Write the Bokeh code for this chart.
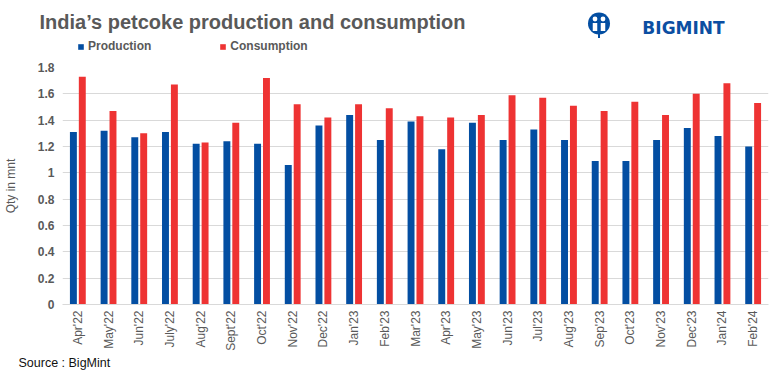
from math import pi
from bokeh.plotting import figure
from bokeh.layouts import column
from bokeh.models import (FactorRange, Range1d, FixedTicker, Label, Legend,
                          LegendItem, ColumnDataSource, Title)
from bokeh.transform import dodge
from bokeh.embed import file_html
from bokeh.resources import INLINE

months = ["Apr'22", "May'22", "Jun'22", "July'22", "Aug'22", "Sept'22", "Oct'22",
          "Nov'22", "Dec'22", "Jan'23", "Feb'23", "Mar'23", "Apr'23", "May'23",
          "Jun'23", "Jul'23", "Aug'23", "Sep'23", "Oct'23", "Nov'23", "Dec'23",
          "Jan'24", "Feb'24"]
production = [1.31, 1.32, 1.27, 1.31, 1.22, 1.24, 1.22, 1.06, 1.36, 1.44, 1.25,
              1.39, 1.18, 1.38, 1.25, 1.33, 1.25, 1.09, 1.09, 1.25, 1.34, 1.28, 1.20]
consumption = [1.73, 1.47, 1.30, 1.67, 1.23, 1.38, 1.72, 1.52, 1.42, 1.52, 1.49,
               1.43, 1.42, 1.44, 1.59, 1.57, 1.51, 1.47, 1.54, 1.44, 1.60, 1.68, 1.53]
y_ticks = [0, 0.2, 0.4, 0.6, 0.8, 1.0, 1.2, 1.4, 1.6, 1.8]
y_tick_labels = ["0", "0.2", "0.4", "0.6", "0.8", "1", "1.2", "1.4", "1.6", "1.8"]
series_names = ["Production", "Consumption"]

FONT = "Liberation Sans"
GREY = "#595959"
BLUE = "#034EA2"
RED = "#EE3333"
W = 776
HEAD_H = 53
MAIN_H = 317
FL, FR = 56, 768   # main frame left/right in page pixels

# ---------------- header: title, legend, logo ----------------
h = figure(width=W, height=HEAD_H, x_range=Range1d(0, W), y_range=Range1d(HEAD_H, 0),
           x_axis_location=None, y_axis_location=None, output_backend="svg",
           toolbar_location=None, min_border=0, outline_line_color=None,
           frame_align=False)
h.grid.grid_line_color = None

h.add_layout(Label(x=39, y=21, text="India\u2019s petcoke production and consumption",
                   text_font=FONT, text_font_size="20px", text_font_style="bold",
                   text_color=GREY, text_align="left", text_baseline="middle"))

dummy = ColumnDataSource(dict(x=[0], top=[0]))
lr1 = h.vbar(x="x", top="top", width=0, source=dummy, fill_color=BLUE, line_color=None)
lr2 = h.vbar(x="x", top="top", width=0, source=dummy, fill_color=RED, line_color=None)
legend = Legend(items=[LegendItem(label=series_names[0], renderers=[lr1]),
                       LegendItem(label=series_names[1], renderers=[lr2])],
                location=(77, 0), orientation="horizontal", glyph_width=7,
                glyph_height=7, label_standoff=4, spacing=68, padding=0, margin=0,
                border_line_color=None, background_fill_alpha=0,
                label_text_font=FONT, label_text_font_size="12px",
                label_text_font_style="bold", label_text_color=GREY, label_height=14)
h.add_layout(legend, "center")

# logo
h.circle(x=[598.5], y=[23], radius=11, fill_color=BLUE, line_color=None)
h.rect(x=[598.5], y=[35], width=2, height=5, fill_color=BLUE, line_color=None)
h.rect(x=[594.5, 602.5], y=[26.5, 26.5], width=4.5, height=8, fill_color="white",
       line_color=None)
h.circle(x=[594.5, 602.5], y=[18.5, 18.5], radius=2.4, fill_color="white",
         line_color=None)
h.add_layout(Label(x=683, y=27.5, text="BIGMINT", text_font="DejaVu Sans",
                   text_font_size="17px", text_font_style="bold", text_color="#0B4EA2",
                   text_align="center", text_baseline="middle"))

# ---------------- main chart ----------------
src = ColumnDataSource(dict(month=months, production=production, consumption=consumption))

p = figure(x_range=FactorRange(*months, range_padding=0), y_range=Range1d(0, 1.8),
           width=W, height=MAIN_H, output_backend="svg", toolbar_location=None,
           min_border_left=FL, min_border_right=W - FR, min_border_top=67 - HEAD_H,
           min_border_bottom=66, outline_line_color=None, frame_align=False)

p.vbar(x=dodge("month", -0.145, range=p.x_range), top="production", width=0.226,
       source=src, fill_color=BLUE, line_color=None)
p.vbar(x=dodge("month", 0.145, range=p.x_range), top="consumption", width=0.226,
       source=src, fill_color=RED, line_color=None)

p.xgrid.grid_line_color = None
p.ygrid.grid_line_color = "#D9D9D9"
p.ygrid.grid_line_width = 1
p.yaxis.ticker = FixedTicker(ticks=y_ticks)
p.yaxis.major_label_overrides = {t: l for t, l in zip(y_ticks, y_tick_labels)}
p.yaxis.axis_line_color = None
p.yaxis.major_tick_line_color = None
p.yaxis.minor_tick_line_color = None
p.yaxis.major_tick_out = 0
p.yaxis.major_label_standoff = 8
p.yaxis.major_label_text_font = FONT
p.yaxis.major_label_text_font_size = "12px"
p.yaxis.major_label_text_font_style = "bold"
p.yaxis.major_label_text_color = GREY
p.yaxis.axis_label = "Qty in mnt"
p.yaxis.axis_label_standoff = 17
p.yaxis.axis_label_text_font = FONT
p.yaxis.axis_label_text_font_size = "12px"
p.yaxis.axis_label_text_font_style = "normal"
p.yaxis.axis_label_text_color = GREY

p.xaxis.axis_line_color = "#D9D9D9"
p.xaxis.major_tick_line_color = None
p.xaxis.minor_tick_line_color = None
p.xaxis.major_tick_out = 0
p.xaxis.major_label_standoff = 6
p.xaxis.major_label_orientation = pi / 2
p.xaxis.major_label_text_font = FONT
p.xaxis.major_label_text_font_size = "12px"
p.xaxis.major_label_text_color = GREY

p.add_layout(Title(text="Source : BigMint", align="left", offset=-44,
                   text_font=FONT, text_font_size="12.5px", text_font_style="normal",
                   text_color="#111111", standoff=0), "below")

layout = column(h, p, spacing=0)
open("out.html", "w").write(file_html(layout, INLINE))
